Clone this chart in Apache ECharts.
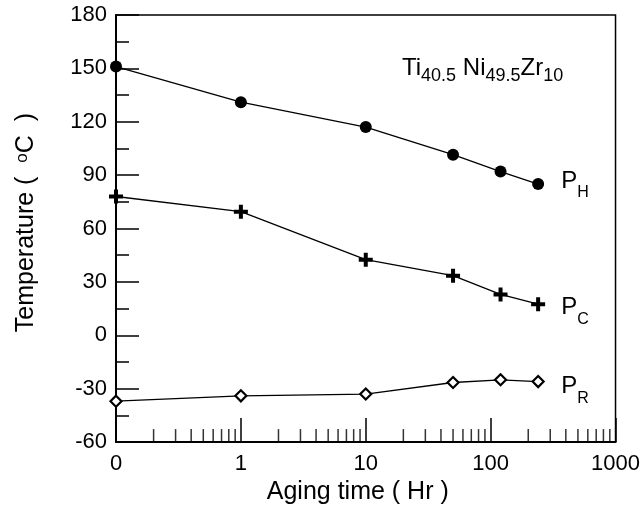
<!DOCTYPE html>
<html>
<head>
<meta charset="utf-8">
<script src="https://cdn.jsdelivr.net/npm/echarts@6/dist/echarts.min.js"></script>
<style>
html,body{margin:0;padding:0;background:#fff;}
#chart{width:643px;height:510px;}
</style>
</head>
<body>
<div id="chart"></div>
<script>
// Aging time (hr); the first point (0 h) is drawn at 0.1 on the log axis and labelled "0"
var agingTimes = [0.1, 1, 10, 50, 120, 240];
var pH = [151, 131, 117, 101.5, 92, 85];
var pC = [78, 69.5, 42.5, 33.5, 23, 17.5];
var pR = [-37, -34, -33, -26.5, -25, -26];
var xTickLabels = {0.1: '0', 1: '1', 10: '10', 100: '100', 1000: '1000'};
var xMinorTicks = [0.2,0.3,0.4,0.5,0.6,0.7,0.8,0.9, 2,3,4,5,6,7,8,9, 20,30,40,50,60,70,80,90, 200,300,400,500,600,700,800,900];
var yMin = -60, yMax = 180, yStep = 30;

var FONT = '"Liberation Sans", Arial, Helvetica, sans-serif';

function pairs(ys){ return agingTimes.map(function(t,i){ return [t, ys[i]]; }); }

var plusPath = 'path://M5,0H9V5H14V9H9V14H5V9H0V5H5Z';

function endLab(sub, dy){
  return {
    show: true,
    formatter: '{p|P}{s|' + sub + '}',
    distance: 23,
    offset: [0, dy],
    color: '#000',
    fontFamily: FONT,
    rich: {
      p: {fontSize: 24, lineHeight: 24, verticalAlign: 'top', fontFamily: FONT, color: '#000'},
      s: {fontSize: 16, lineHeight: 16, verticalAlign: 'top', padding: [16, 0, 0, 0], fontFamily: FONT, color: '#000'}
    }
  };
}

var chart = echarts.init(document.getElementById('chart'), null, {renderer: 'canvas'});
chart.setOption({
  backgroundColor: '#fff',
  animation: false,
  grid: {left: 116, top: 15, width: 500, height: 427.5, show: true, borderColor: '#000', borderWidth: 1.5, backgroundColor: 'transparent'},
  xAxis: {
    type: 'log', logBase: 10, min: 0.1, max: 1000,
    axisLine: {show: true, onZero: false, lineStyle: {color: '#000', width: 2}},
    axisTick: {show: true, inside: true, length: 24, lineStyle: {color: '#000', width: 1.5}},
    splitLine: {show: false},
    axisLabel: {
      color: '#000', fontSize: 22, fontFamily: FONT, margin: 11,
      formatter: function(v){
        var k = Math.round(Math.log10(v));
        var key = Math.pow(10, k);
        return xTickLabels[key] !== undefined ? xTickLabels[key] : '';
      }
    },
    name: 'Aging time ( Hr )',
    nameLocation: 'middle', nameGap: 34,
    nameTextStyle: {color: '#000', fontSize: 25, fontFamily: FONT, padding: [0, 16, 0, 0]}
  },
  yAxis: {
    type: 'value', min: yMin, max: yMax, interval: yStep,
    axisLine: {show: true, onZero: false, lineStyle: {color: '#000', width: 2}},
    axisTick: {show: true, inside: true, length: 23, lineStyle: {color: '#000', width: 1.5}},
    minorTick: {show: true, splitNumber: 2, length: 13, lineStyle: {color: '#000', width: 1.5}},
    splitLine: {show: false},
    axisLabel: {color: '#000', fontSize: 22, fontFamily: FONT, margin: 9},
    name: 'Temperature (  {o|o}C  )',
    nameLocation: 'middle', nameGap: 77, nameRotate: 90,
    nameTextStyle: {
      color: '#000', fontSize: 25, fontFamily: FONT, padding: [0, 0, 0, 12],
      rich: {
        o: {fontSize: 17, lineHeight: 17, verticalAlign: 'top', padding: [0, 0, 18, 0], fontFamily: FONT, color: '#000'}
      }
    }
  },
  graphic: [{
    type: 'text', left: 402, top: 56,
    style: {
      text: '{m|Ti}{s|40.5} {m|Ni}{s|49.5}{m|Zr}{s|10}',
      fontSize: 24, fontFamily: FONT, fill: '#000',
      rich: {
        m: {fontSize: 24, lineHeight: 24, verticalAlign: 'top', fontFamily: FONT, fill: '#000'},
        s: {fontSize: 18, lineHeight: 18, verticalAlign: 'top', padding: [11, 0, 0, 0], fontFamily: FONT, fill: '#000'}
      }
    }
  }],
  series: [
    {
      name: 'PH', type: 'line', data: pairs(pH),
      symbol: 'circle', symbolSize: 12,
      itemStyle: {color: '#000'},
      lineStyle: {color: '#000', width: 1.3},
      endLabel: endLab('H', -3)
    },
    {
      name: 'PC', type: 'line', data: pairs(pC),
      symbol: plusPath, symbolSize: 14,
      itemStyle: {color: '#000'},
      lineStyle: {color: '#000', width: 1.3},
      endLabel: endLab('C', 3)
    },
    {
      name: 'PR', type: 'line', data: pairs(pR),
      symbol: 'diamond', symbolSize: [11, 11],
      itemStyle: {color: '#fff', borderColor: '#000', borderWidth: 2.2},
      lineStyle: {color: '#000', width: 1.3},
      endLabel: endLab('R', 5)
    },
    {
      name: 'minorTicks', type: 'scatter', silent: true, clip: false,
      data: xMinorTicks.map(function(t){ return [t, yMin]; }),
      symbol: 'rect', symbolSize: [1.5, 13], symbolOffset: [0, -6.5],
      itemStyle: {color: '#000'}, z: 1
    }
  ]
});
</script>
</body>
</html>
